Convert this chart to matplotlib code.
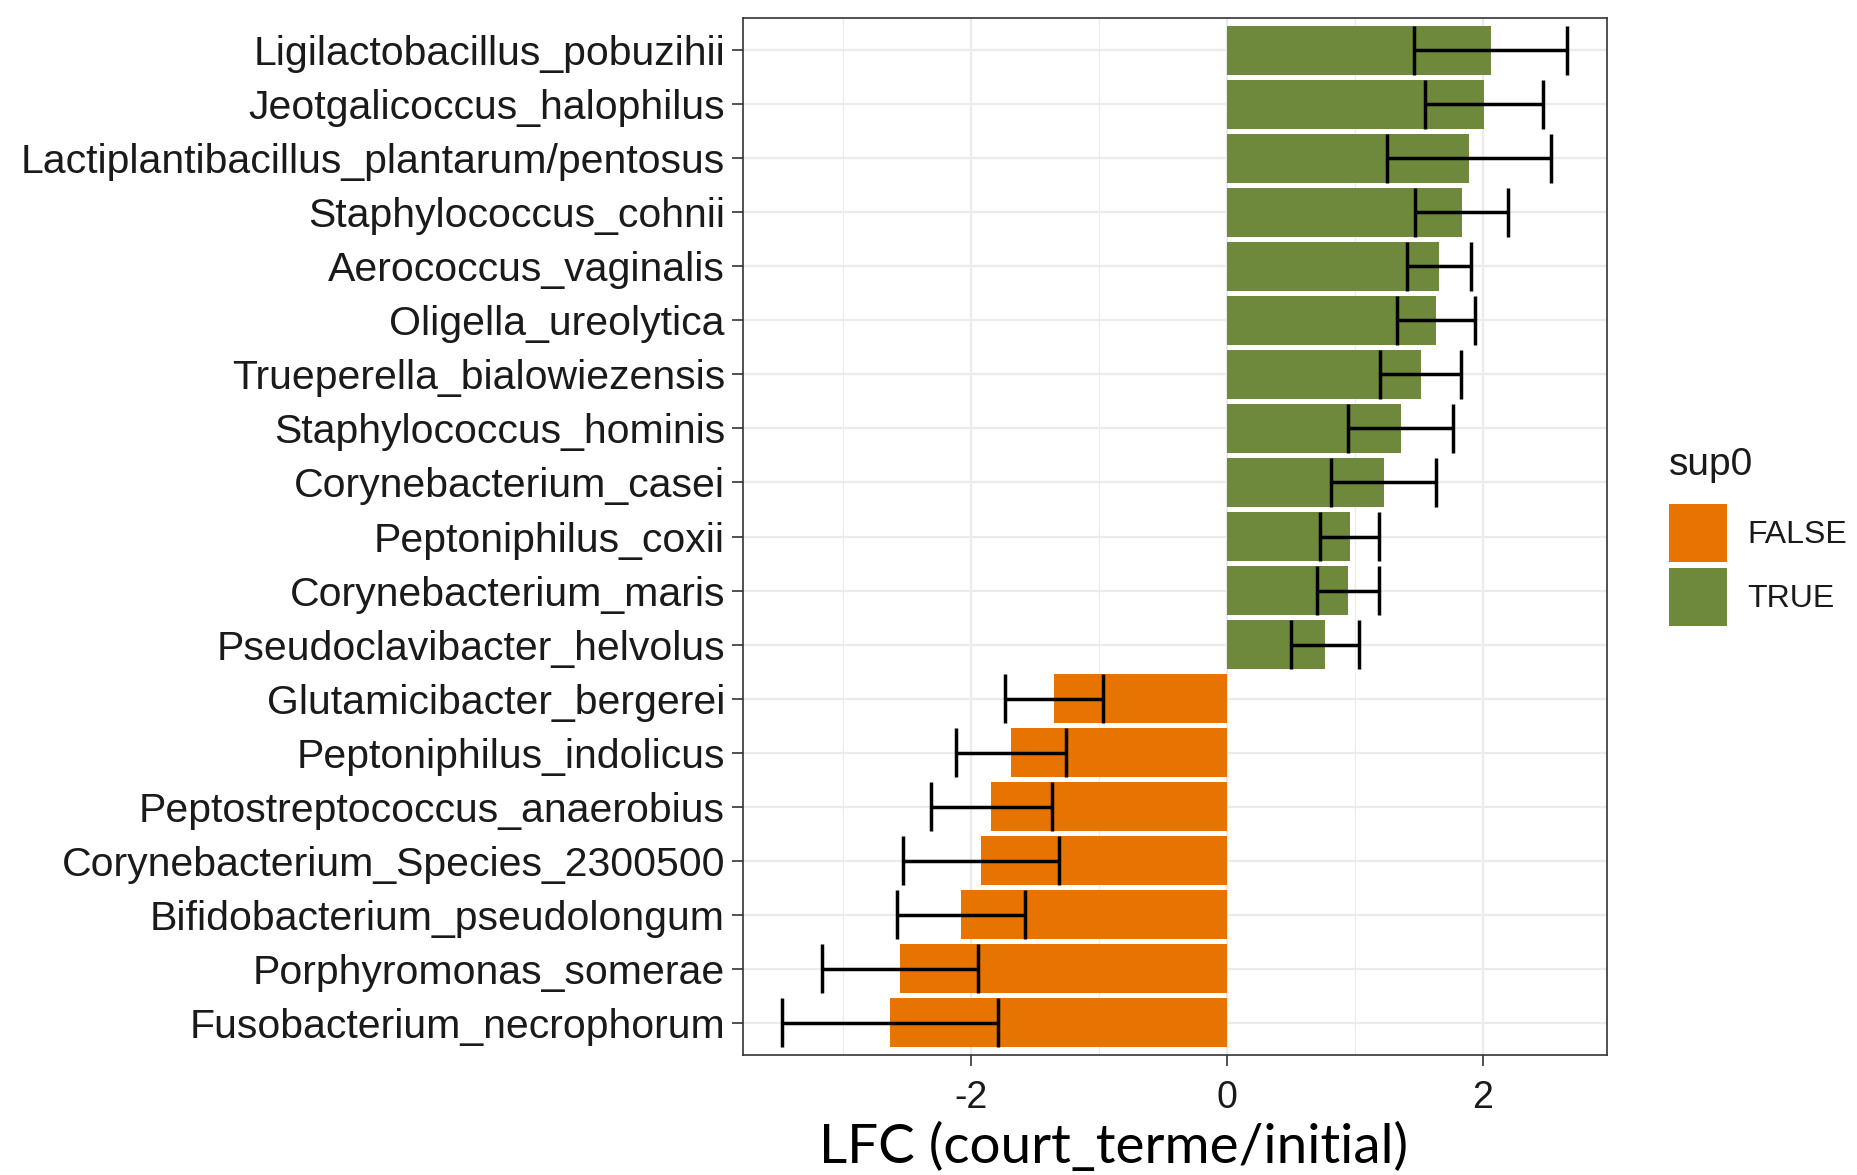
import numpy as np
import matplotlib.pyplot as plt

# taxa listed top to bottom as they appear on the chart
taxa = ['Ligilactobacillus_pobuzihii', 'Jeotgalicoccus_halophilus',
        'Lactiplantibacillus_plantarum/pentosus', 'Staphylococcus_cohnii',
        'Aerococcus_vaginalis', 'Oligella_ureolytica',
        'Trueperella_bialowiezensis', 'Staphylococcus_hominis',
        'Corynebacterium_casei', 'Peptoniphilus_coxii',
        'Corynebacterium_maris', 'Pseudoclavibacter_helvolus',
        'Glutamicibacter_bergerei', 'Peptoniphilus_indolicus',
        'Peptostreptococcus_anaerobius', 'Corynebacterium_Species_2300500',
        'Bifidobacterium_pseudolongum', 'Porphyromonas_somerae',
        'Fusobacterium_necrophorum']
lfc = [2.06, 2.01, 1.89, 1.835, 1.655, 1.635, 1.515, 1.36, 1.225, 0.96, 0.948, 0.767,
       -1.35, -1.685, -1.84, -1.92, -2.077, -2.55, -2.631]
se = [0.598, 0.46, 0.64, 0.365, 0.249, 0.305, 0.316, 0.41, 0.412, 0.229, 0.24, 0.262,
      0.386, 0.428, 0.475, 0.607, 0.50, 0.609, 0.842]

col_true = '#6E893C'
col_false = '#E87400'

lfc = np.array(lfc)
se = np.array(se)
n = len(taxa)
ypos = np.arange(n)[::-1]
sup0 = lfc > 0

plt.rcParams['font.family'] = ['Liberation Sans', 'DejaVu Sans']
fig = plt.figure(figsize=(18.58, 11.75), dpi=100)
ax = fig.add_axes([0.3999, 0.1021, 0.4650, 0.8826])

# grid like theme_bw
for v in [-3, -1, 1]:
    ax.axvline(v, color='#EBEBEB', lw=0.8, zorder=0)
for v in [-2, 0, 2]:
    ax.axvline(v, color='#EBEBEB', lw=1.6, zorder=0)
for y in ypos:
    ax.axhline(y, color='#EBEBEB', lw=1.6, zorder=0)

bf = ax.barh(ypos[~sup0], lfc[~sup0], height=0.9, color=col_false, zorder=2, label='FALSE')
bt = ax.barh(ypos[sup0], lfc[sup0], height=0.9, color=col_true, zorder=2, label='TRUE')

# error bars: lfc +/- se, caps spanning the bar height
ax.hlines(ypos, lfc - se, lfc + se, color='black', lw=2.5, zorder=3)
ax.vlines(lfc - se, ypos - 0.45, ypos + 0.45, color='black', lw=2.5, zorder=3)
ax.vlines(lfc + se, ypos - 0.45, ypos + 0.45, color='black', lw=2.5, zorder=3)

ax.set_xlim(-3.78, 2.97)
ax.set_ylim(-0.6, n - 0.4)
ax.set_xticks([-2, 0, 2])
ax.set_xticklabels(['-2', '0', '2'])
ax.set_yticks(ypos)
ax.set_yticklabels(taxa)
ax.tick_params(axis='both', labelcolor='#1A1A1A', color='#333333', length=8, width=1.2)
ax.tick_params(axis='y', labelsize=29.5, pad=5)
ax.tick_params(axis='x', labelsize=27, pad=10)
for s in ax.spines.values():
    s.set_color('#333333')
    s.set_linewidth(1.2)

fig.text(0.5996, 0.0238, 'LFC (court_terme/initial)', ha='center', va='center',
         fontsize=39.5, family=['Lato', 'DejaVu Sans'])

# legend
fig.text(0.8983, 0.604, 'sup0', ha='left', va='center', fontsize=28, color='#1A1A1A')
leg = fig.legend(handles=[bf, bt], labels=['FALSE', 'TRUE'],
                 loc='upper left', bbox_to_anchor=(0.8983, 0.571), frameon=False,
                 fontsize=23, handlelength=1.8, handleheight=2.4, borderpad=0,
                 borderaxespad=0, labelspacing=0.2, handletextpad=0.66)
for t in leg.get_texts():
    t.set_color('#1A1A1A')

fig.savefig('out.png', dpi=100)
